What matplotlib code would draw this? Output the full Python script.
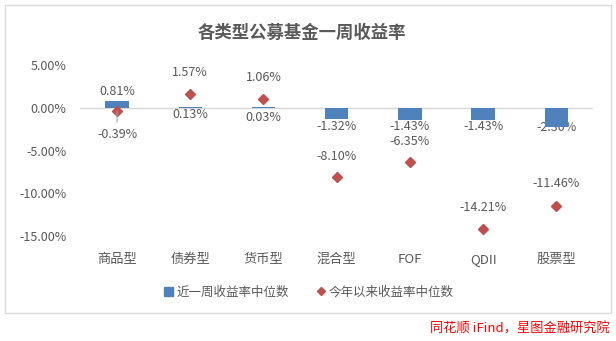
import matplotlib.pyplot as plt
from matplotlib.patches import Rectangle
from matplotlib.lines import Line2D

plt.rcParams['font.family'] = ['Noto Sans CJK SC', 'DejaVu Sans']

categories = ['商品型', '债券型', '货币型', '混合型', 'FOF', 'QDII', '股票型']
week_ret = [0.81, 0.13, 0.03, -1.32, -1.43, -1.43, -2.30]
ytd_ret = [-0.39, 1.57, 1.06, -8.10, -6.35, -14.21, -11.46]

# label placement (points offset from the value), tuned by eye
week_off = [7, -6, -7, -5.5, -5, -5, 0]
ytd_off = [-17, 15.5, 15.5, 14.5, 15, 16, 16]

BLUE = '#4F81BD'
RED = '#C0504D'
GREY = '#595959'

fig = plt.figure(figsize=(6.16, 3.41), dpi=100)
W, H = 616, 341

# chart frame
fig.patches.append(Rectangle((5 / W, 1 - 313 / H), 606 / W, 308 / H,
                             transform=fig.transFigure, fill=False,
                             edgecolor='#d9d9d9', linewidth=1))

ax = fig.add_axes([80.4 / W, 1 - 236 / H, (593 - 80.4) / W, (236 - 65) / H])
x = list(range(len(categories)))

ax.bar(x, week_ret, width=0.32, color=BLUE, zorder=2)
ax.plot(x, ytd_ret, linestyle='none', marker='D', markersize=4.8,
        color=RED, zorder=3)
ax.axhline(0, color='#d9d9d9', linewidth=1, zorder=1)

for i in x:
    ax.annotate(f'{week_ret[i]:.2f}%', (i, week_ret[i]), xytext=(0, week_off[i]),
                textcoords='offset points', ha='center', va='center',
                fontsize=9, color=GREY, zorder=1)
    ax.annotate(f'{ytd_ret[i]:.2f}%', (i, ytd_ret[i]), xytext=(0, ytd_off[i]),
                textcoords='offset points', ha='center', va='center',
                fontsize=9, color=GREY, zorder=4)

# leader line for the moved label
ax.annotate('', (0, ytd_ret[0]), xytext=(0, -8), textcoords='offset points',
            arrowprops=dict(arrowstyle='-', color='#a6a6a6', lw=0.8,
                            shrinkA=0, shrinkB=0))

ax.set_xlim(-0.5, len(categories) - 0.5)
ax.set_ylim(-15, 5)
ax.set_yticks([5, 0, -5, -10, -15])
ax.set_yticklabels([f'{v:.2f}%' for v in [5, 0, -5, -10, -15]])
ax.set_xticks(x)
ax.set_xticklabels(categories)
ax.tick_params(axis='y', length=0, pad=10, labelsize=9, labelcolor=GREY)
ax.tick_params(axis='x', length=0, pad=12, labelsize=9.5, labelcolor=GREY)
for s in ax.spines.values():
    s.set_visible(False)

fig.text(302 / W, 1 - 33 / H, '各类型公募基金一周收益率', ha='center', va='center',
         fontsize=12.5, fontweight='bold', color=GREY)

handles = [Rectangle((0, 0), 1, 1, color=BLUE),
           Line2D([], [], linestyle='none', marker='D', markersize=4, color=RED)]
fig.legend(handles, ['近一周收益率中位数', '今年以来收益率中位数'], loc='center',
           bbox_to_anchor=(309 / W, 1 - 292 / H), ncol=2, frameon=False,
           fontsize=9, labelcolor=GREY, handlelength=0.7, handleheight=0.7,
           handletextpad=0.3, columnspacing=2.2)

fig.text(610 / W, 1 - 329 / H, '同花顺 iFind，星图金融研究院', ha='right', va='center',
         fontsize=9.5, color='#ff0000', style='italic')

fig.savefig('out.png', dpi=100)
